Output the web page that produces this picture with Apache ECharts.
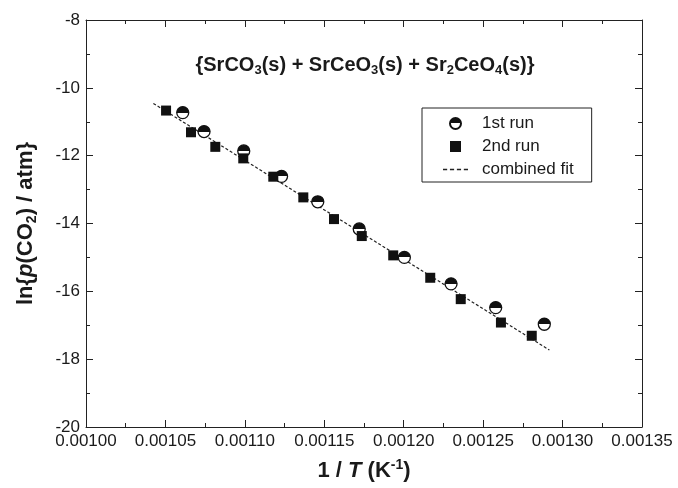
<!DOCTYPE html>
<html>
<head>
<meta charset="utf-8">
<script src="https://cdn.jsdelivr.net/npm/echarts@6/dist/echarts.min.js"></script>
<style>html,body{margin:0;padding:0;background:#fff}#c{width:678px;height:488px}</style>
</head>
<body>
<div id="c"></div>
<script>
// 1st run (half-filled circles)
const run1X = [0.0010609, 0.0010743, 0.0010993, 0.0011231, 0.0011459, 0.0011720, 0.0012004, 0.0012298, 0.0012579, 0.0012885];
const run1Y = [-10.73, -11.29, -11.86, -12.61, -13.36, -14.16, -15.00, -15.78, -16.48, -16.97];
// 2nd run (filled squares)
const run2X = [0.0010504, 0.0010661, 0.0010814, 0.0010990, 0.0011179, 0.0011368, 0.0011561, 0.0011736, 0.0011934, 0.0012167, 0.0012359, 0.0012612, 0.0012806];
const run2Y = [-10.67, -11.31, -11.74, -12.08, -12.62, -13.23, -13.87, -14.37, -14.94, -15.60, -16.23, -16.92, -17.31];
// combined fit (end points of dashed line)
const fitX = [0.0010424, 0.0012917];
const fitY = [-10.46, -17.73];

const xMin = 0.00100, xMax = 0.00135, xStep = 0.00005;
const yMin = -20, yMax = -8, yStep = 2;

const chart = echarts.init(document.getElementById('c'), null, {renderer: 'canvas'});
const FONT = 'Liberation Sans, Arial, sans-serif';
const axisCol = '#222';
const txtCol = '#1a1a1a';
const halfFill = {
  type: 'linear', x: 0, y: 0, x2: 0, y2: 1,
  colorStops: [
    {offset: 0, color: '#111'}, {offset: 0.5, color: '#111'},
    {offset: 0.5, color: '#fff'}, {offset: 1, color: '#fff'}
  ]
};
const subStyle = {fontSize: 13, fontWeight: 'bold', fontFamily: FONT, color: txtCol, padding: [11, 0, 0, 0]};
const xBase = {
  type: 'value', min: xMin, max: xMax, interval: xStep,
  axisLine: {show: true, onZero: false, lineStyle: {color: axisCol, width: 1}},
  axisTick: {show: true, inside: true, length: 7, lineStyle: {color: axisCol}},
  minorTick: {show: true, splitNumber: 2, length: 4, lineStyle: {color: axisCol}},
  splitLine: {show: false}
};
const yBase = {
  type: 'value', min: yMin, max: yMax, interval: yStep,
  axisLine: {show: true, onZero: false, lineStyle: {color: axisCol, width: 1}},
  axisTick: {show: true, inside: true, length: 7, lineStyle: {color: axisCol}},
  minorTick: {show: true, splitNumber: 2, length: 4, lineStyle: {color: axisCol}},
  splitLine: {show: false}
};

chart.setOption({
  animation: false,
  backgroundColor: '#fff',
  textStyle: {fontFamily: FONT},
  grid: {left: 86, right: 36, top: 20, bottom: 61, containLabel: false},
  title: {
    text: '{SrCO{s|3}(s) + SrCeO{s|3}(s) + Sr{s|2}CeO{s|4}(s)}',
    left: 360, top: 48, textAlign: 'center',
    textStyle: {fontSize: 20, fontWeight: 'bold', fontFamily: FONT, color: txtCol, rich: {s: subStyle}}
  },
  legend: {
    orient: 'vertical', left: 422, top: 108,
    borderColor: '#222', borderWidth: 1, padding: [7, 18, 4, 21],
    itemGap: 6, itemWidth: 25, itemHeight: 11,
    textStyle: {fontSize: 17, color: txtCol, fontFamily: FONT, padding: [0, 0, 0, 9]},
    data: [
      {name: '1st run'},
      {name: '2nd run', icon: 'path://M0,0L10,0L10,10L0,10Z'},
      {name: 'combined fit', icon: 'path://M0,0h3v1h-3z M5,0h3v1h-3z M10,0h3v1h-3z M15,0h3v1h-3z',
       itemStyle: {color: '#222'}}
    ]
  },
  xAxis: [
    Object.assign({}, xBase, {
      position: 'bottom',
      axisLabel: {show: true, fontSize: 17, color: txtCol, fontFamily: FONT, margin: 6,
        formatter: v => v.toFixed(5)},
      name: '1 / {i|T} (K{sup|-1})', nameLocation: 'middle', nameGap: 31,
      nameTextStyle: {fontSize: 22, fontWeight: 'bold', color: txtCol, fontFamily: FONT,
        rich: {i: {fontSize: 22, fontWeight: 'bold', fontStyle: 'italic', fontFamily: FONT, color: txtCol},
               sup: {fontSize: 14, fontWeight: 'bold', fontFamily: FONT, color: txtCol, padding: [0, 0, 12, 0]}}}
    }),
    Object.assign({}, xBase, {position: 'top', axisLabel: {show: false}})
  ],
  yAxis: [
    Object.assign({}, yBase, {
      position: 'left',
      axisLabel: {show: true, fontSize: 17, color: txtCol, fontFamily: FONT, margin: 6},
      name: 'ln{{i|p}(CO{s|2}) / atm}', nameLocation: 'middle', nameGap: 47, nameRotate: 90,
      nameTextStyle: {fontSize: 22, fontWeight: 'bold', color: txtCol, fontFamily: FONT,
        rich: {i: {fontSize: 22, fontWeight: 'bold', fontStyle: 'italic', fontFamily: FONT, color: txtCol},
               s: {fontSize: 14, fontWeight: 'bold', fontFamily: FONT, color: txtCol, padding: [12, 0, 0, 0]}}}
    }),
    Object.assign({}, yBase, {position: 'right', axisLabel: {show: false}})
  ],
  series: [
    {
      name: 'combined fit', type: 'line', xAxisIndex: 0, yAxisIndex: 0,
      data: fitX.map((x, i) => [x, fitY[i]]),
      symbol: 'none', showSymbol: false, silent: true,
      lineStyle: {type: [3, 2], width: 1.2, color: '#222'},
      itemStyle: {color: '#222'}, z: 1
    },
    {
      name: '1st run', type: 'scatter', xAxisIndex: 0, yAxisIndex: 0,
      data: run1X.map((x, i) => [x, run1Y[i]]),
      symbol: 'circle', symbolSize: 12,
      itemStyle: {color: halfFill, borderColor: '#111', borderWidth: 1.3, opacity: 1}, z: 2
    },
    {
      name: '2nd run', type: 'scatter', xAxisIndex: 0, yAxisIndex: 0,
      data: run2X.map((x, i) => [x, run2Y[i]]),
      symbol: 'rect', symbolSize: 10,
      itemStyle: {color: '#111', opacity: 1}, z: 3
    }
  ]
});
</script>
</body>
</html>
